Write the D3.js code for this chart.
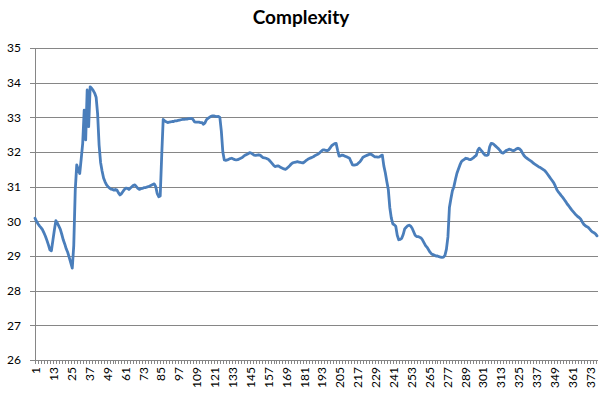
<!DOCTYPE html>
<html>
<head>
<meta charset="utf-8">
<script src="https://cdn.jsdelivr.net/npm/d3@7"></script>
<style>
  body { margin: 0; background: #fff; }
  svg { display: block; }
</style>
</head>
<body>
<div id="chart"></div>
<script>
// Complexity series, one value per sample (1..378)
const complexity = [
  30.09, 30.00, 29.93, 29.87, 29.82, 29.76, 29.67, 29.57, 29.45, 29.32,
  29.18, 29.15, 29.45, 29.75, 30.02, 29.95, 29.86, 29.77, 29.62, 29.46,
  29.34, 29.20, 29.10, 28.95, 28.80, 28.65, 29.30, 30.90, 31.63, 31.50,
  31.38, 31.80, 32.25, 33.21, 32.35, 33.79, 32.73, 33.88, 33.84, 33.78,
  33.70, 33.58, 33.10, 32.20, 31.70, 31.45, 31.25, 31.14, 31.05, 31.00,
  30.96, 30.93, 30.92, 30.90, 30.92, 30.90, 30.82, 30.76, 30.80, 30.86,
  30.92, 30.96, 30.95, 30.92, 30.96, 31.00, 31.04, 31.05, 31.00, 30.95,
  30.92, 30.94, 30.95, 30.97, 30.97, 30.99, 31.00, 31.02, 31.04, 31.06,
  31.08, 31.00, 30.80, 30.71, 30.73, 31.90, 32.94, 32.90, 32.87, 32.85,
  32.86, 32.87, 32.88, 32.88, 32.90, 32.90, 32.91, 32.92, 32.93, 32.94,
  32.94, 32.95, 32.95, 32.96, 32.96, 32.97, 32.94, 32.87, 32.86, 32.86,
  32.86, 32.85, 32.85, 32.80, 32.84, 32.93, 32.97, 33.00, 33.03, 33.04,
  33.04, 33.03, 33.02, 33.03, 33.00, 32.60, 32.00, 31.77, 31.76, 31.77,
  31.79, 31.81, 31.82, 31.80, 31.78, 31.77, 31.78, 31.80, 31.82, 31.84,
  31.88, 31.91, 31.93, 31.95, 31.98, 31.97, 31.94, 31.91, 31.90, 31.91,
  31.92, 31.91, 31.87, 31.84, 31.83, 31.82, 31.80, 31.77, 31.72, 31.67,
  31.62, 31.58, 31.59, 31.60, 31.58, 31.55, 31.53, 31.51, 31.50, 31.53,
  31.57, 31.61, 31.66, 31.69, 31.70, 31.71, 31.72, 31.71, 31.70, 31.69,
  31.69, 31.72, 31.76, 31.79, 31.81, 31.83, 31.85, 31.87, 31.90, 31.92,
  31.94, 31.98, 32.02, 32.06, 32.06, 32.05, 32.04, 32.06, 32.12, 32.18,
  32.21, 32.24, 32.25, 32.05, 31.88, 31.89, 31.91, 31.90, 31.88, 31.86,
  31.84, 31.82, 31.72, 31.63, 31.62, 31.63, 31.64, 31.68, 31.72, 31.78,
  31.85, 31.87, 31.89, 31.91, 31.93, 31.94, 31.92, 31.89, 31.86, 31.86,
  31.85, 31.86, 31.89, 31.91, 31.60, 31.40, 31.15, 30.92, 30.40, 30.10,
  29.93, 29.90, 29.86, 29.60, 29.47, 29.48, 29.51, 29.62, 29.78, 29.83,
  29.87, 29.89, 29.86, 29.80, 29.70, 29.60, 29.56, 29.56, 29.54, 29.52,
  29.46, 29.38, 29.30, 29.25, 29.18, 29.11, 29.06, 29.04, 29.02, 29.00,
  29.00, 28.98, 28.97, 28.96, 28.97, 29.02, 29.20, 29.55, 30.40, 30.65,
  30.88, 31.00, 31.20, 31.38, 31.50, 31.62, 31.72, 31.76, 31.79, 31.82,
  31.81, 31.79, 31.78, 31.80, 31.83, 31.87, 31.90, 32.05, 32.11, 32.06,
  32.01, 31.95, 31.91, 31.90, 31.92, 32.15, 32.25, 32.24, 32.21, 32.17,
  32.13, 32.09, 32.04, 31.98, 31.97, 32.00, 32.04, 32.06, 32.08, 32.07,
  32.05, 32.04, 32.06, 32.09, 32.11, 32.09, 32.05, 31.97, 31.90, 31.85,
  31.82, 31.79, 31.76, 31.73, 31.69, 31.66, 31.63, 31.60, 31.57, 31.55,
  31.52, 31.49, 31.46, 31.41, 31.35, 31.29, 31.23, 31.17, 31.11, 31.02,
  30.92, 30.85, 30.80, 30.74, 30.69, 30.63, 30.57, 30.50, 30.45, 30.39,
  30.33, 30.28, 30.23, 30.18, 30.14, 30.11, 30.07, 29.99, 29.92, 29.88,
  29.85, 29.83, 29.78, 29.73, 29.69, 29.67, 29.64, 29.58
];

// categories 1..378
const samples = complexity.map((d, i) => i + 1);
const yTicks = [26, 27, 28, 29, 30, 31, 32, 33, 34, 35];
const xLabels = samples.filter(s => (s - 1) % 12 === 0);

const width = 603, height = 398;
const margin = { top: 48, right: 5, bottom: 38, left: 35 };
const font = "Lato, 'Open Sans', sans-serif";

const svg = d3.select("#chart")
    .append("svg")
    .attr("width", width)
    .attr("height", height);

const x = d3.scalePoint()
    .domain(samples)
    .range([margin.left, width - margin.right - 1]);

const y = d3.scaleLinear()
    .domain([26, 35])
    .range([height - margin.bottom, margin.top]);

// Title
svg.append("text")
    .attr("x", 301)
    .attr("y", 24)
    .attr("text-anchor", "middle")
    .attr("font-family", font)
    .attr("font-weight", "bold")
    .attr("font-size", 19)
    .attr("fill", "#000")
    .text("Complexity");

// Gridlines + y axis
const yAxis = d3.axisLeft(y)
    .tickValues(yTicks)
    .tickSize(-(width - margin.right - margin.left))
    .tickSizeOuter(0)
    .tickPadding(14)
    .tickFormat(d3.format("d"));

const gy = svg.append("g")
    .attr("transform", `translate(${margin.left},0)`)
    .call(yAxis);

gy.select(".domain")
    .attr("stroke", "#868686")
    .attr("shape-rendering", "crispEdges");
gy.selectAll(".tick line")
    .attr("stroke", "#868686")
    .attr("x1", -5)
    .attr("shape-rendering", "crispEdges");
gy.selectAll(".tick text")
    .attr("font-family", font)
    .attr("font-size", 12)
    .attr("fill", "#000");

// x axis: hatch of small tick marks, labels every 12 samples
const gx = svg.append("g")
    .attr("transform", `translate(0,${height - margin.bottom})`);

gx.append("line")
    .attr("x1", margin.left)
    .attr("x2", width - margin.right)
    .attr("stroke", "#868686")
    .attr("shape-rendering", "crispEdges");

gx.selectAll("line.minor")
    .data(samples.filter(s => s % 2 === 1))
    .enter()
    .append("line")
    .attr("class", "minor")
    .attr("x1", d => Math.round(x(d)) + 0.5)
    .attr("x2", d => Math.round(x(d)) + 0.5)
    .attr("y1", 0)
    .attr("y2", 4)
    .attr("stroke", "#868686");

gx.selectAll("text")
    .data(xLabels)
    .enter()
    .append("text")
    .attr("transform", d => `translate(${x(d) + 1},7) rotate(-90)`)
    .attr("text-anchor", "end")
    .attr("dy", "0.35em")
    .attr("font-family", font)
    .attr("font-size", 12)
    .attr("fill", "#000")
    .text(d => d);

// Series line
const line = d3.line()
    .x((d, i) => x(samples[i]))
    .y(d => y(d));

svg.append("path")
    .datum(complexity)
    .attr("fill", "none")
    .attr("stroke", "#4A7EBB")
    .attr("stroke-width", 2.8)
    .attr("stroke-linejoin", "round")
    .attr("stroke-linecap", "round")
    .attr("d", line);
</script>
</body>
</html>
